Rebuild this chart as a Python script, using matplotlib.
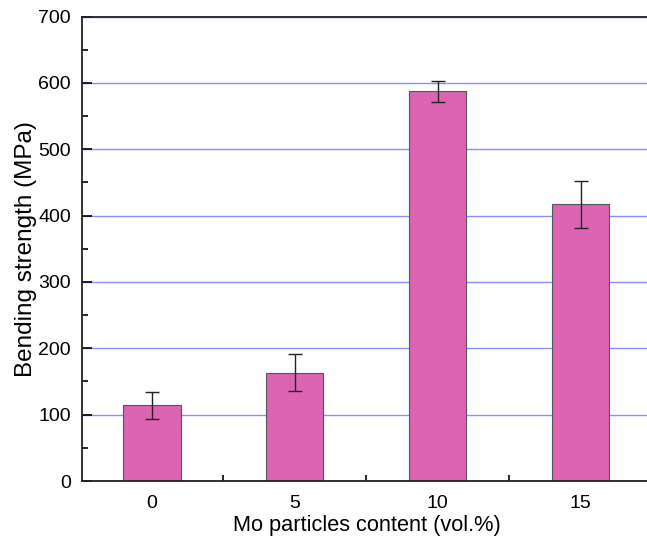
import matplotlib
matplotlib.use("Agg")
import matplotlib.pyplot as plt
from matplotlib.ticker import MultipleLocator

content = [0, 5, 10, 15]
strength = [114, 163, 587, 417]
err = [20, 28, 16, 35]
xlabels = ["0", "5", "10", "15"]

plt.rcParams['font.family'] = ['Liberation Sans', 'DejaVu Sans']

fig = plt.figure(figsize=(6.47, 5.43), dpi=100)
ax = fig.add_axes([82/647, 62/543, 570/647, 464.5/543])

ax.set_axisbelow(True)
ax.yaxis.grid(True, color='#8c8cff', linewidth=1.0)
ax.bar(content, strength, width=2.0, color='#dd64b2', edgecolor='#555555', linewidth=0.8, zorder=2)
ax.errorbar(content, strength, yerr=err, fmt='none', ecolor='#222222', elinewidth=1.0, capsize=5, capthick=1.0, zorder=3)

ax.set_xlim(-2.45, 17.5)
ax.set_ylim(0, 700)
ax.set_xticks(content)
ax.set_xticklabels(xlabels)
ax.xaxis.set_minor_locator(MultipleLocator(2.5))
ax.yaxis.set_major_locator(MultipleLocator(100))
ax.yaxis.set_minor_locator(MultipleLocator(50))
ax.tick_params(which='both', direction='in', top=False, right=False, labelsize=14, width=1.2)
ax.tick_params(axis='y', which='major', length=7, pad=8)
ax.tick_params(axis='x', which='major', length=7, pad=10)
ax.tick_params(which='minor', length=4)
for s in ax.spines.values():
    s.set_linewidth(1.3)
    s.set_color('#222222')

ax.set_xlabel('Mo particles content (vol.%)', fontsize=15.7, labelpad=2)
ax.set_ylabel('Bending strength (MPa)', fontsize=17.5, labelpad=1)

fig.savefig('out.png', dpi=100)
